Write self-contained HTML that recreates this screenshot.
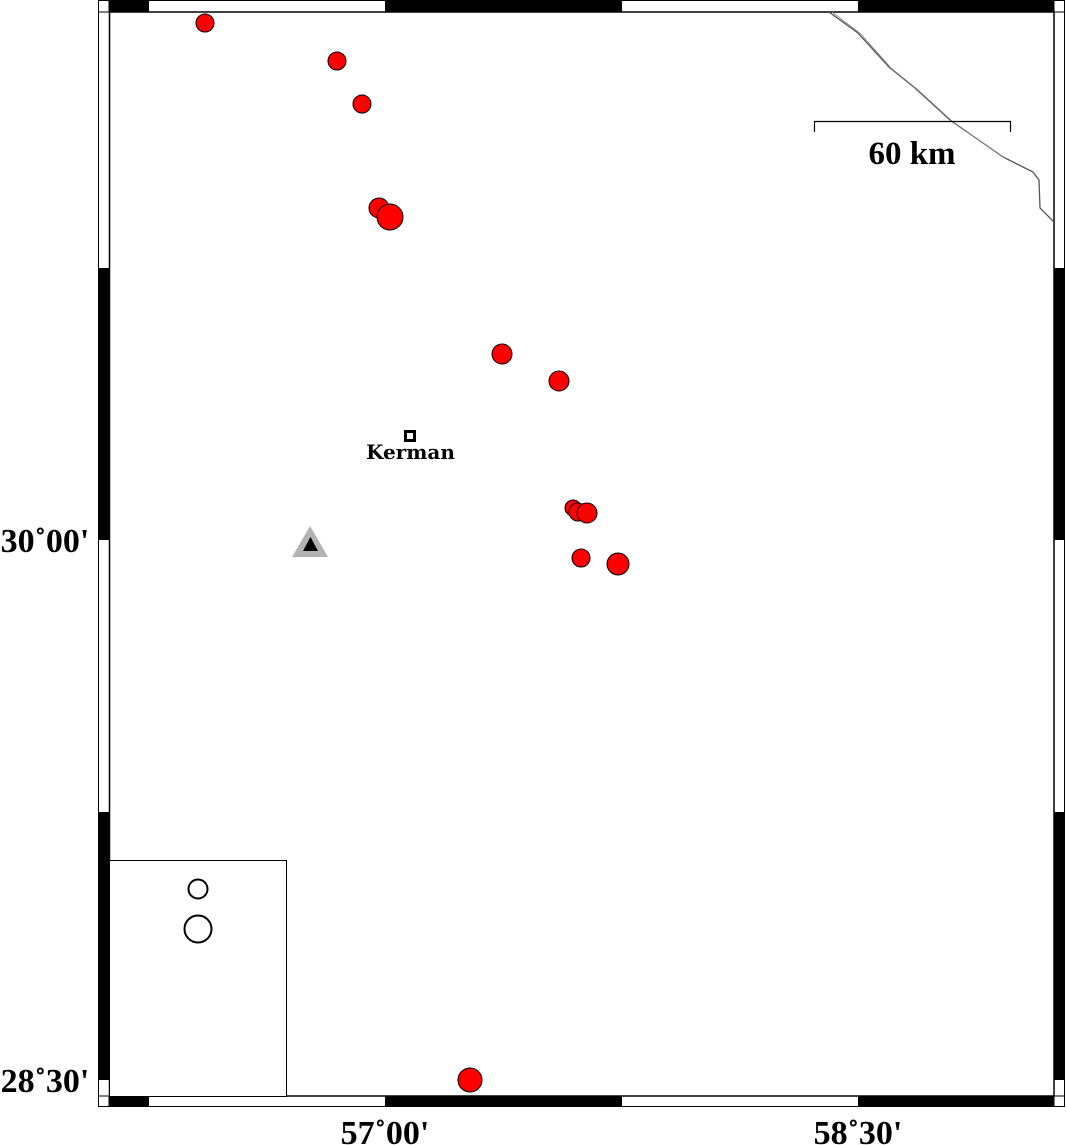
<!DOCTYPE html>
<html><head><meta charset="utf-8"><style>
html,body{margin:0;padding:0;background:#fff;}
svg{display:block;}
text{font-family:"Liberation Serif",serif;font-weight:bold;}
</style></head><body>
<svg width="1066" height="1145" viewBox="0 0 1066 1145" xmlns="http://www.w3.org/2000/svg">
<rect x="0" y="0" width="1066" height="1145" fill="#fff"/>
<rect x="98.5" y="0.5" width="966" height="1106" fill="none" stroke="#000" stroke-width="1"/>
<rect x="109.5" y="12" width="944.5" height="1084" fill="none" stroke="#000" stroke-width="1.5"/>
<g fill="#000">
<rect x="109" y="1" width="40" height="11"/>
<rect x="385" y="1" width="237" height="11"/>
<rect x="858" y="1" width="196" height="11"/>
<rect x="109" y="1096" width="40" height="11"/>
<rect x="385" y="1096" width="237" height="11"/>
<rect x="858" y="1096" width="196" height="11"/>
<rect x="98" y="268" width="11" height="272"/>
<rect x="98" y="812" width="11" height="268"/>
<rect x="1054" y="268" width="11" height="272"/>
<rect x="1054" y="812" width="11" height="268"/>
</g>
<g stroke="#000" stroke-width="1">
<line x1="98" y1="12" x2="109" y2="12"/><line x1="98" y1="1096" x2="109" y2="1096"/>
<line x1="1054" y1="12" x2="1065" y2="12"/><line x1="1054" y1="1096" x2="1065" y2="1096"/>
<line x1="109" y1="0" x2="109" y2="12"/><line x1="109" y1="1096" x2="109" y2="1107"/>
<line x1="1054" y1="0" x2="1054" y2="12"/><line x1="1054" y1="1096" x2="1054" y2="1107"/>
</g>
<polyline points="829,12 858,33 889,67 915,88 950,120 1003,157 1033,172 1039,180 1040,208 1054,222" fill="none" stroke="#555" stroke-width="1.3"/>
<polyline points="832,12 861,34 891,68 917,89 952,121 1004,158" fill="none" stroke="#888" stroke-width="0.8"/>
<polyline points="814.5,132 814.5,121.5 1010.5,121.5 1010.5,132" fill="none" stroke="#000" stroke-width="1.2"/>
<text x="912" y="164" font-size="33" text-anchor="middle">60 km</text>
<g fill="#ff0000" stroke="#000" stroke-width="1">
<circle cx="205" cy="23" r="9"/>
<circle cx="337" cy="61" r="9"/>
<circle cx="362" cy="104" r="9"/>
<circle cx="379" cy="208" r="10"/>
<circle cx="390" cy="217" r="13"/>
<circle cx="502" cy="354" r="10"/>
<circle cx="559" cy="381" r="10"/>
<circle cx="573" cy="508" r="8"/>
<circle cx="578" cy="512" r="9"/>
<circle cx="587" cy="513" r="10"/>
<circle cx="581" cy="558" r="9"/>
<circle cx="618" cy="564" r="11"/>
<circle cx="470" cy="1080" r="12"/>
</g>
<rect x="405.5" y="431.5" width="9" height="9" fill="#fff" stroke="#000" stroke-width="3"/>
<text x="410.5" y="459" font-size="20" text-anchor="middle" style="font-family:'DejaVu Serif',serif;font-weight:bold">Kerman</text>
<polygon points="292,557 310,526 328,557" fill="#b3b3b3"/>
<polygon points="303,551 310.5,537 318,551" fill="#000"/>
<rect x="109.5" y="860.5" width="177" height="236" fill="#fff" stroke="#000" stroke-width="1"/>
<circle cx="198" cy="889" r="9.5" fill="none" stroke="#000" stroke-width="2"/>
<circle cx="198" cy="929" r="13.5" fill="none" stroke="#000" stroke-width="2"/>
<text x="45" y="552" font-size="34" text-anchor="middle">30˚00'</text>
<text x="45" y="1092" font-size="34" text-anchor="middle">28˚30'</text>
<text x="385" y="1144" font-size="34" text-anchor="middle">57˚00'</text>
<text x="858" y="1144" font-size="34" text-anchor="middle">58˚30'</text>
</svg>
</body></html>
